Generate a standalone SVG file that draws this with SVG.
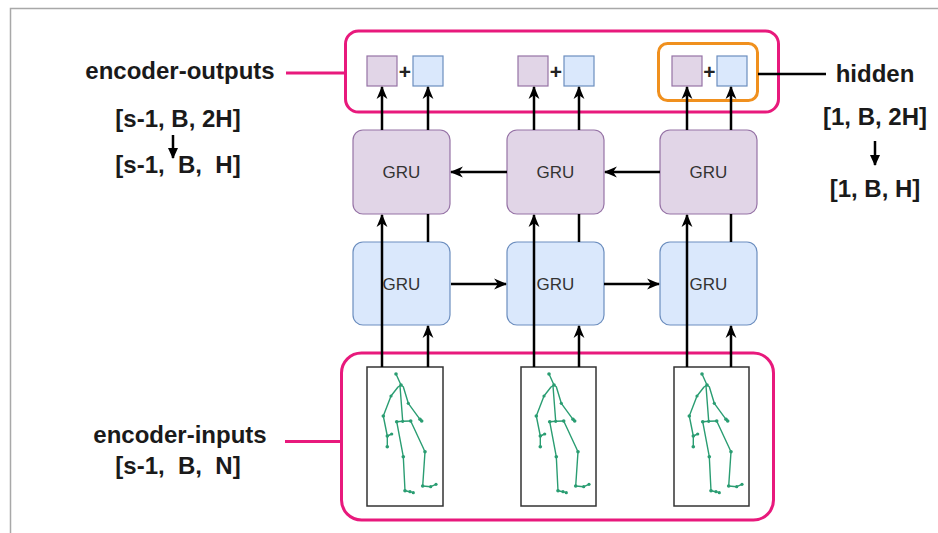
<svg xmlns="http://www.w3.org/2000/svg" width="938" height="533" viewBox="0 0 938 533">
  <style>
    .lbl { font-family: "Liberation Sans", Arial, sans-serif; font-weight: bold; font-size: 24px; fill: #1a1a1a; text-anchor: middle; white-space: pre; }
    .gru-txt { font-family: "Liberation Sans", Arial, sans-serif; font-size: 17px; fill: #333333; text-anchor: middle; dominant-baseline: central; }
    .plus { font-family: "Liberation Sans", Arial, sans-serif; font-weight: bold; font-size: 21px; fill: #222222; text-anchor: middle; dominant-baseline: central; }
    .gru-b { fill: #e1d5e7; stroke: #9673a6; stroke-width: 1.2; }
    .gru-f { fill: #dae8fc; stroke: #6c8ebf; stroke-width: 1.2; }
    .cell-b { fill: #e1d5e7; stroke: #9673a6; stroke-width: 1.2; }
    .cell-f { fill: #dae8fc; stroke: #6c8ebf; stroke-width: 1.2; }
    .group { fill: none; stroke: #e8197c; stroke-width: 3; }
    .pink { fill: none; stroke: #e8197c; stroke-width: 3; }
    .frame { fill: #ffffff; stroke: #333333; stroke-width: 1.5; }
    .edge { fill: none; stroke: #000000; stroke-width: 2.5; }
    .bone { fill: none; stroke: #2a9d72; stroke-width: 1.4; stroke-linejoin: round; stroke-linecap: round; }
    .joint { fill: #2a9d72; }
  </style>
  <defs>
    <marker id="arr" viewBox="0 0 12 12" refX="11" refY="6" markerWidth="13" markerHeight="13" orient="auto" markerUnits="userSpaceOnUse">
      <path d="M0,1 L12,6 L0,11 L3.5,6 z" fill="#000000"/>
    </marker>
    <marker id="arrS" viewBox="0 0 12 12" refX="11" refY="6" markerWidth="11" markerHeight="11" orient="auto" markerUnits="userSpaceOnUse">
      <path d="M0,0.5 L12,6 L0,11.5 z" fill="#000000"/>
    </marker>
    <!-- stick figure pose, coordinates relative to the frame's top-left corner -->
    <g id="pose">
      <polyline class="bone" points="29,7 34,18"/>
      <polyline class="bone" points="34,18 31,20 24,29 16.3,49 20.3,69 20.3,79.7"/>
      <polyline class="bone" points="20.3,69 24.7,67"/>
      <polyline class="bone" points="34,18 36.3,19.7 41.3,36.3 53,52.3 54.7,54"/>
      <polyline class="bone" points="33,19 35.7,54"/>
      <polyline class="bone" points="29.7,54.7 35.7,54.3 43.7,54"/>
      <polyline class="bone" points="29.7,54.7 36.3,89.7 38,123.7 43,124.7 46.3,125.7"/>
      <polyline class="bone" points="43.7,54 58,84.7 55.7,119 63.7,119.7 69,117.3"/>
      <g class="joint">
        <circle cx="29" cy="7" r="1.8"/>
        <circle cx="34" cy="18" r="1.8"/>
        <circle cx="24" cy="29" r="1.6"/>
        <circle cx="16.3" cy="49" r="1.8"/>
        <circle cx="20.3" cy="69" r="1.8"/>
        <circle cx="24.7" cy="67" r="1.6"/>
        <circle cx="20.3" cy="79.7" r="1.8"/>
        <circle cx="41.3" cy="36.3" r="1.6"/>
        <circle cx="53" cy="52.3" r="1.8"/>
        <circle cx="54.7" cy="54" r="1.8"/>
        <circle cx="29.7" cy="54.7" r="1.8"/>
        <circle cx="35.7" cy="54.3" r="1.6"/>
        <circle cx="43.7" cy="54" r="1.8"/>
        <circle cx="36.3" cy="89.7" r="1.8"/>
        <circle cx="38" cy="123.7" r="1.8"/>
        <circle cx="43" cy="124.7" r="1.6"/>
        <circle cx="46.3" cy="125.7" r="1.6"/>
        <circle cx="58" cy="84.7" r="1.8"/>
        <circle cx="55.7" cy="119" r="1.8"/>
        <circle cx="63.7" cy="119.7" r="1.6"/>
        <circle cx="69" cy="117.3" r="1.6"/>
      </g>
    </g>
  </defs>

  <rect width="938" height="533" fill="#ffffff"/>
  <!-- outer page border -->
  <path d="M10.5,540 V8.5 H940" fill="none" stroke="#a8a8a8" stroke-width="1.5"/>

  <!-- grouping outlines -->
  <g id="outputs-group">
    <rect class="group" x="345.5" y="31" width="433" height="81" rx="13"/>
  </g>
  <g id="inputs-group">
    <rect class="group" x="341.5" y="353" width="432" height="167" rx="20"/>
  </g>

  <!-- input frames -->
  <g id="input-1">
    <rect class="frame" x="367" y="367" width="76" height="139"/>
    <use href="#pose" transform="translate(367,367)"/>
  </g>
  <g id="input-2">
    <rect class="frame" x="521" y="367" width="75" height="139"/>
    <use href="#pose" transform="translate(520,367)"/>
  </g>
  <g id="input-3">
    <rect class="frame" x="674" y="367" width="75" height="139"/>
    <use href="#pose" transform="translate(673,367)"/>
  </g>

  <!-- forward GRU layer -->
  <g id="gru-f1"><rect class="gru-f" x="353" y="242" width="97" height="83" rx="10"/><text class="gru-txt" x="401.5" y="284">GRU</text></g>
  <g id="gru-f2"><rect class="gru-f" x="507" y="242" width="97" height="83" rx="10"/><text class="gru-txt" x="555.5" y="284">GRU</text></g>
  <g id="gru-f3"><rect class="gru-f" x="660" y="242" width="97" height="83" rx="10"/><text class="gru-txt" x="708.5" y="284">GRU</text></g>

  <!-- backward GRU layer -->
  <g id="gru-b1"><rect class="gru-b" x="353" y="130" width="97" height="84" rx="10"/><text class="gru-txt" x="401.5" y="172.5">GRU</text></g>
  <g id="gru-b2"><rect class="gru-b" x="507" y="130" width="97" height="84" rx="10"/><text class="gru-txt" x="555.5" y="172.5">GRU</text></g>
  <g id="gru-b3"><rect class="gru-b" x="660" y="130" width="97" height="84" rx="10"/><text class="gru-txt" x="708.5" y="172.5">GRU</text></g>

  <!-- per-step output pairs -->
  <g id="out-1">
    <rect class="cell-b" x="367" y="56" width="30" height="30"/>
    <text class="plus" x="405" y="71">+</text>
    <rect class="cell-f" x="413" y="56" width="30" height="30"/>
  </g>
  <g id="out-2">
    <rect class="cell-b" x="518" y="56" width="30" height="30"/>
    <text class="plus" x="556" y="71">+</text>
    <rect class="cell-f" x="564" y="56" width="30" height="30"/>
  </g>
  <g id="out-3">
    <rect class="cell-b" x="672" y="56" width="30" height="30"/>
    <text class="plus" x="709.5" y="71">+</text>
    <rect class="cell-f" x="717" y="56" width="30" height="30"/>
  </g>

  <!-- final hidden state highlight -->
  <g id="hidden-box">
    <rect x="658.5" y="43.5" width="99" height="57" rx="9" fill="none" stroke="#f0901e" stroke-width="3"/>
  </g>

  <!-- connectors -->
  <g id="connectors">
    <!-- column 1 -->
    <path class="edge" d="M382,367 V215" marker-end="url(#arr)"/>
    <path class="edge" d="M382,130 V87" marker-end="url(#arr)"/>
    <path class="edge" d="M428,367 V326" marker-end="url(#arr)"/>
    <path class="edge" d="M428,242 V214"/>
    <path class="edge" d="M428,130 V87" marker-end="url(#arr)"/>
    <!-- column 2 -->
    <path class="edge" d="M534,367 V215" marker-end="url(#arr)"/>
    <path class="edge" d="M534,130 V87" marker-end="url(#arr)"/>
    <path class="edge" d="M579,367 V326" marker-end="url(#arr)"/>
    <path class="edge" d="M579,242 V214"/>
    <path class="edge" d="M579,130 V87" marker-end="url(#arr)"/>
    <!-- column 3 -->
    <path class="edge" d="M687,367 V215" marker-end="url(#arr)"/>
    <path class="edge" d="M687,130 V87" marker-end="url(#arr)"/>
    <path class="edge" d="M731,367 V326" marker-end="url(#arr)"/>
    <path class="edge" d="M731,242 V214"/>
    <path class="edge" d="M731,130 V87" marker-end="url(#arr)"/>
    <!-- recurrent links -->
    <path class="edge" d="M507,172 H451" marker-end="url(#arr)"/>
    <path class="edge" d="M660,172 H605" marker-end="url(#arr)"/>
    <path class="edge" d="M451,284 H506" marker-end="url(#arr)"/>
    <path class="edge" d="M604,284 H659" marker-end="url(#arr)"/>
    <!-- label leaders -->
    <path class="pink" d="M286,73 H345"/>
    <path class="pink" d="M285,441.5 H341"/>
    <path class="edge" d="M758,74 H826"/>
    <!-- shape arrows -->
    <path class="edge" d="M173,135 V158" marker-end="url(#arrS)"/>
    <path class="edge" d="M875,141 V165" marker-end="url(#arrS)"/>
  </g>

  <!-- labels -->
  <g id="labels">
    <text class="lbl" x="180" y="79">encoder-outputs</text>
    <text class="lbl" x="178" y="127">[s-1, B, 2H]</text>
    <text class="lbl" x="178" y="173">[s-1,  B,  H]</text>
    <text class="lbl" x="180" y="443">encoder-inputs</text>
    <text class="lbl" x="178" y="474">[s-1,  B,  N]</text>
    <text class="lbl" x="875" y="82">hidden</text>
    <text class="lbl" x="875" y="125">[1, B, 2H]</text>
    <text class="lbl" x="875" y="197">[1, B, H]</text>
  </g>
</svg>
